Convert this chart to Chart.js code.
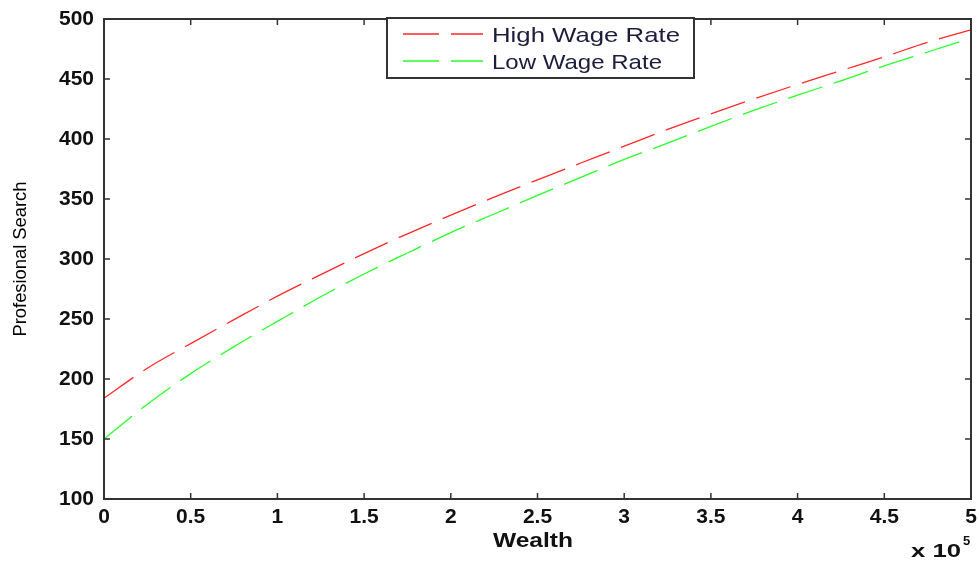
<!DOCTYPE html>
<html>
<head>
<meta charset="utf-8">
<script src="https://cdn.jsdelivr.net/npm/chart.js@4.4.0/dist/chart.umd.min.js"></script>
<style>
  html, body { margin: 0; padding: 0; background: #fff; }
  #wrap { width: 979px; height: 563px; }
</style>
</head>
<body>
<div id="wrap"><canvas id="chart" width="979" height="563"></canvas></div>
<script>
// Wealth in units of 10^5
var wealth = [0, 0.25, 0.5, 0.75, 1, 1.25, 1.5, 1.75, 2, 2.25, 2.5, 2.75, 3, 3.25, 3.5, 3.75, 4, 4.25, 4.5, 4.75, 5];
var highWage = [184, 209, 229.5, 249.5, 269, 287, 304.5, 321, 336.5, 351.5, 366, 380, 394, 408, 421, 433.5, 445.5, 457, 468.5, 480.5, 491];
var lowWage = [150, 179, 204.5, 227, 248, 268.5, 287.5, 305, 322, 337.5, 353, 368, 383, 396.5, 410.5, 424, 436.5, 448.5, 461, 472.5, 484];
var seriesNames = ["High Wage Rate", "Low Wage Rate"];
var seriesColors = ["rgb(255, 40, 40)", "rgb(40, 255, 40)"];

function toPoints(xs, ys) {
    return xs.map(function (x, i) { return {x: x, y: ys[i]}; });
}

var axisColor = "#333";
var textColor = "#111";

// draw text squeezed/stretched to a given width
function fitText(ctx, txt, x, y, width) {
    var w = ctx.measureText(txt).width;
    ctx.save();
    ctx.translate(x, y);
    ctx.scale(width / w, 1);
    ctx.fillText(txt, 0, 0);
    ctx.restore();
}

// box, inward ticks, legend, axis titles
var decor = {
    id: "decor",
    afterDraw: function (chart) {
        var ctx = chart.ctx;
        var a = chart.chartArea;
        var xs = chart.scales.x, ys = chart.scales.y;
        ctx.save();
        ctx.strokeStyle = axisColor;
        ctx.lineWidth = 2;
        ctx.strokeRect(a.left, a.top, a.right - a.left, a.bottom - a.top);

        ctx.lineWidth = 1.5;
        ctx.beginPath();
        xs.ticks.forEach(function (t) {
            var px = xs.getPixelForValue(t.value);
            ctx.moveTo(px, a.bottom); ctx.lineTo(px, a.bottom - 6);
            ctx.moveTo(px, a.top); ctx.lineTo(px, a.top + 6);
        });
        ys.ticks.forEach(function (t) {
            var py = ys.getPixelForValue(t.value);
            ctx.moveTo(a.left, py); ctx.lineTo(a.left + 6, py);
            ctx.moveTo(a.right, py); ctx.lineTo(a.right - 6, py);
        });
        ctx.stroke();

        // legend
        var lx = 387, ly = 18, lw = 307, lh = 60;
        ctx.fillStyle = "#fff";
        ctx.fillRect(lx, ly, lw, lh);
        ctx.lineWidth = 2;
        ctx.strokeStyle = axisColor;
        ctx.strokeRect(lx, ly, lw, lh);
        chart.data.datasets.forEach(function (ds, i) {
            var y = 34 + i * 27;
            ctx.strokeStyle = ds.borderColor;
            ctx.lineWidth = 1.3;
            ctx.setLineDash([36, 12]);
            ctx.beginPath();
            ctx.moveTo(403, y); ctx.lineTo(483, y);
            ctx.stroke();
            ctx.setLineDash([]);
            ctx.fillStyle = "#1c1c3c";
            ctx.font = "21px 'Liberation Sans', Arial, sans-serif";
            ctx.textBaseline = "alphabetic";
            ctx.textAlign = "left";
            fitText(ctx, ds.label, 492, y + 8, i === 0 ? 188 : 170);
        });

        // x title
        ctx.fillStyle = textColor;
        ctx.font = "bold 20px 'Liberation Sans', Arial, sans-serif";
        ctx.textAlign = "left";
        fitText(ctx, "Wealth", 493, 547, 80);

        // exponent
        ctx.font = "bold 19px 'Liberation Sans', Arial, sans-serif";
        fitText(ctx, "x 10", 911, 557, 50);
        ctx.font = "bold 13px 'Liberation Sans', Arial, sans-serif";
        ctx.fillText("5", 963, 545);

        // y title
        ctx.save();
        ctx.translate(26, (a.top + a.bottom) / 2);
        ctx.rotate(-Math.PI / 2);
        ctx.fillStyle = "#000";
        ctx.font = "18px 'Liberation Sans Narrow', 'Liberation Sans', Arial, sans-serif";
        ctx.textAlign = "center";
        var yw = ctx.measureText("Profesional Search").width;
        ctx.scale(155 / yw, 1);
        ctx.fillText("Profesional Search", 0, 0);
        ctx.restore();

        ctx.restore();
    }
};

var ctx1 = document.getElementById("chart").getContext("2d");
var myChart = new Chart(ctx1, {
    type: "line",
    data: {
        datasets: [{
            label: seriesNames[0],
            data: toPoints(wealth, highWage),
            borderColor: seriesColors[0],
            borderWidth: 1.3,
            borderDash: [36, 12],
            pointRadius: 0,
            cubicInterpolationMode: "monotone",
            fill: false
        }, {
            label: seriesNames[1],
            data: toPoints(wealth, lowWage),
            borderColor: seriesColors[1],
            borderWidth: 1.3,
            borderDash: [36, 12],
            pointRadius: 0,
            cubicInterpolationMode: "monotone",
            fill: false
        }]
    },
    options: {
        responsive: false,
        animation: false,
        layout: {padding: {top: 19, right: 8, left: 0, bottom: 0}},
        plugins: {
            legend: {display: false},
            tooltip: {enabled: false}
        },
        scales: {
            x: {
                type: "linear",
                min: 0,
                max: 5,
                grid: {display: false, drawTicks: false},
                border: {display: false},
                ticks: {
                    stepSize: 0.5,
                    padding: 6,
                    color: textColor,
                    maxRotation: 0,
                    font: {family: "'Liberation Sans', Arial, sans-serif", size: 21, weight: "bold"},
                    callback: function (v) { return String(Math.round(v * 10) / 10); }
                },
                afterFit: function (scale) {
                    scale.height = 64;
                    scale.paddingLeft = 0;
                    scale.paddingRight = 0;
                }
            },
            y: {
                min: 100,
                max: 500,
                grid: {display: false, drawTicks: false},
                border: {display: false},
                ticks: {
                    stepSize: 50,
                    padding: 10,
                    color: textColor,
                    font: {family: "'Liberation Sans', Arial, sans-serif", size: 21, weight: "bold"}
                },
                afterFit: function (scale) {
                    scale.width = 104;
                    scale.paddingTop = 0;
                    scale.paddingBottom = 0;
                }
            }
        }
    },
    plugins: [decor]
});
</script>
</body>
</html>
